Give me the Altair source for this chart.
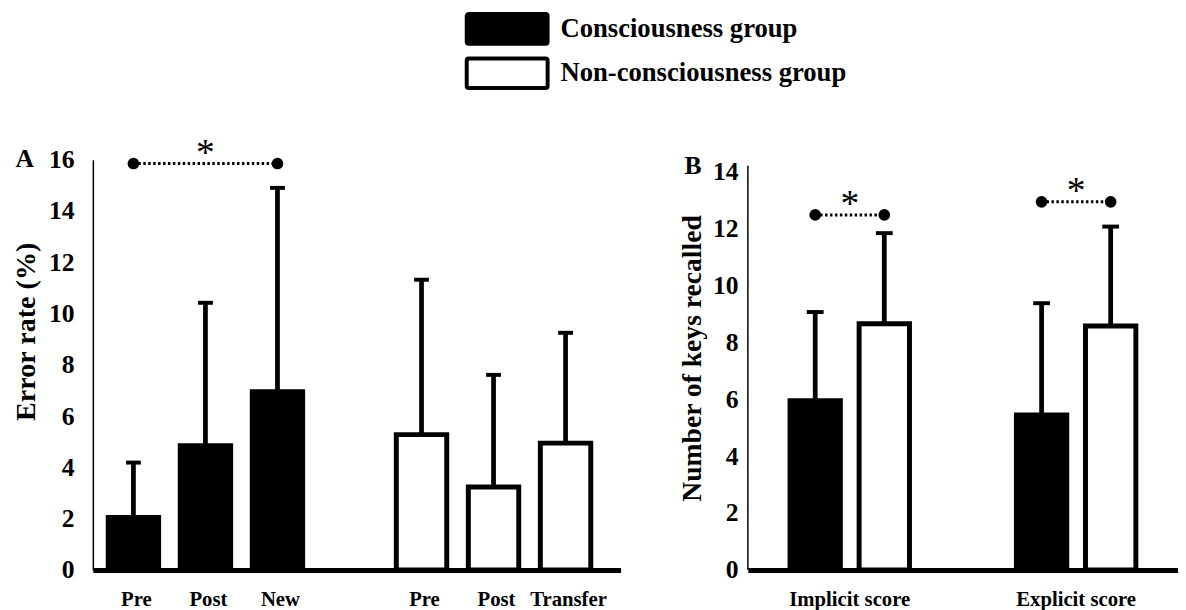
import altair as alt
import pandas as pd

FONT = "Liberation Serif"

# ---------------- data ----------------
legend_groups = ["Consciousness group", "Non-consciousness group"]

# Panel A: error rate (%)
a_groups = ["Consciousness group"] * 3 + ["Non-consciousness group"] * 3
a_labels = ["Pre", "Post", "New", "Pre", "Post", "Transfer"]
a_means = [2.05, 4.85, 6.95, 5.28, 3.24, 4.95]
a_sds = [2.14, 5.57, 7.95, 6.04, 4.37, 4.30]
a_sig_labels = ["Pre", "New"]          # compared bars (consciousness group)
a_sig_star_label = "Post"
a_sig_level = 15.85
a_ticks = [0, 2, 4, 6, 8, 10, 12, 14, 16]

# Panel B: number of keys recalled
b_categories = ["Implicit score", "Explicit score"]
b_means_c = [5.95, 5.45]
b_sds_c = [3.11, 3.92]
b_means_n = [8.65, 8.57]
b_sds_n = [3.18, 3.49]
b_sig_levels = [12.47, 12.93]
b_ticks = [0, 2, 4, 6, 8, 10, 12, 14]
b_axis_top = 14.2

# ---------------- tables ----------------
a_df = pd.DataFrame({"group": a_groups, "label": a_labels, "mean": a_means, "sd": a_sds})
a_df["key"] = a_df["group"] + "|" + a_df["label"]
a_df["upper"] = a_df["mean"] + a_df["sd"]
a_domain = list(a_df["key"][:3]) + ["|"] + list(a_df["key"][3:])
a_sig_df = pd.DataFrame({"key": [legend_groups[0] + "|" + l for l in a_sig_labels],
                         "level": [a_sig_level] * len(a_sig_labels)})
a_star_df = pd.DataFrame({"key": [legend_groups[0] + "|" + a_sig_star_label], "level": [a_sig_level]})

b_df = pd.DataFrame({
    "category": b_categories * 2,
    "group": [legend_groups[0]] * 2 + [legend_groups[1]] * 2,
    "mean": b_means_c + b_means_n,
    "sd": b_sds_c + b_sds_n,
})
b_df["upper"] = b_df["mean"] + b_df["sd"]
b_sig_df = pd.DataFrame({
    "category": b_categories * 2,
    "group": [legend_groups[0]] * 2 + [legend_groups[1]] * 2,
    "level": b_sig_levels * 2,
})
b_star_df = pd.DataFrame({"category": b_categories, "level": b_sig_levels})

color_scale = alt.Scale(domain=legend_groups, range=["black", "white"])

# ---------------- panel A ----------------
A_W, A_H = 535, 416

def xa():
    return alt.X("key:N",
                 scale=alt.Scale(domain=a_domain, paddingInner=0.30, paddingOuter=0.314, align=0.34),
                 axis=alt.Axis(title=None, labelExpr="split(datum.value, '|')[1]", labelAngle=0,
                               labelFont=FONT, labelFontWeight="bold", labelFontSize=21,
                               labelColor="black", labelPadding=19, ticks=False, labelOffset=3,
                               domainColor="black", domainWidth=5, labelBaseline="top"))

def ya(field):
    return alt.Y(field, scale=alt.Scale(domain=[0, 16]), title="Error rate (%)",
                 axis=alt.Axis(values=a_ticks, grid=False, ticks=False, labelFont=FONT,
                               labelFontWeight="bold", labelFontSize=26, labelColor="black",
                               labelPadding=19, domainColor="black", domainWidth=1.5,
                               titleFont=FONT, titleFontWeight="bold", titleFontSize=28.5,
                               titleColor="black", titlePadding=8, titleY=174))

a_bars = alt.Chart(a_df).mark_bar(stroke="black", strokeWidth=5).encode(
    x=xa(), y=ya("mean:Q"),
    fill=alt.Color("group:N", scale=color_scale, legend=None))
a_stem = alt.Chart(a_df).mark_rule(strokeWidth=4.8, color="black").encode(
    x=xa(), y=ya("mean:Q"), y2="upper:Q")
a_cap = alt.Chart(a_df).mark_tick(size=15, thickness=4, color="black", opacity=1).encode(
    x=xa(), y=ya("upper:Q"))
a_sig_line = alt.Chart(a_sig_df).mark_line(strokeDash=[2.5, 2.5], strokeWidth=3, color="black").encode(
    x=xa(), y=ya("level:Q"))
a_sig_dot = alt.Chart(a_sig_df).mark_circle(size=140, color="black", opacity=1).encode(
    x=xa(), y=ya("level:Q"))
a_star = alt.Chart(a_star_df).mark_text(text="*", font=FONT, fontSize=38, baseline="alphabetic",
                                        color="black", dy=2).encode(x=xa(), y=ya("level:Q"))
a_letter = alt.Chart(pd.DataFrame({"t": ["A"]})).mark_text(
    font=FONT, fontSize=26, fontWeight="bold", color="black", baseline="middle", align="center").encode(
    text="t:N", x=alt.value(-69), y=alt.value(-1))
a_anchor = alt.Chart(pd.DataFrame({"t": ["A"]})).mark_point(size=1, opacity=0).encode(
    x=alt.value(0), y=alt.value(-40))

panel_a = alt.layer(a_bars, a_stem, a_cap, a_sig_line, a_sig_dot, a_star, a_letter, a_anchor).properties(
    width=A_W, height=A_H)

# ---------------- panel B ----------------
B_W, B_H = 436, 416

def xb():
    return alt.X("category:N",
                 scale=alt.Scale(domain=b_categories, paddingInner=0.1, paddingOuter=0),
                 axis=alt.Axis(title=None, labelAngle=0, labelFont=FONT, labelFontWeight="bold",
                               labelFontSize=21, labelColor="black", labelPadding=19, ticks=False,
                               domainColor="black", domainWidth=5, labelBaseline="top"))

def xob():
    return alt.XOffset("group:N", scale=alt.Scale(domain=legend_groups, paddingInner=0.271,
                                                  paddingOuter=0.61))

def yb(field):
    return alt.Y(field, scale=alt.Scale(domain=[0, 14.41]), title="Number of keys recalled",
                 axis=alt.Axis(values=b_ticks, grid=False, ticks=False, labelFont=FONT,
                               labelFontWeight="bold", labelFontSize=26, labelColor="black",
                               labelPadding=10, domain=False,
                               titleFont=FONT, titleFontWeight="bold", titleFontSize=28,
                               titleColor="black", titlePadding=6, titleY=201))

b_axisline = alt.Chart(pd.DataFrame({"lo": [0.0], "hi": [b_axis_top]})).mark_rule(
    strokeWidth=1.5, color="black").encode(x=alt.value(0), y=yb("lo:Q"), y2="hi:Q")
b_bars = alt.Chart(b_df).mark_bar(stroke="black", strokeWidth=5).encode(
    x=xb(), xOffset=xob(), y=yb("mean:Q"),
    fill=alt.Color("group:N", scale=color_scale, legend=None))
b_stem = alt.Chart(b_df).mark_rule(strokeWidth=4.8, color="black").encode(
    x=xb(), xOffset=xob(), y=yb("mean:Q"), y2="upper:Q")
b_cap = alt.Chart(b_df).mark_tick(size=17, thickness=4, color="black", opacity=1).encode(
    x=xb(), xOffset=xob(), y=yb("upper:Q"))
b_sig_line = alt.Chart(b_sig_df).mark_line(strokeDash=[2.5, 2.5], strokeWidth=3, color="black").encode(
    x=xb(), xOffset=xob(), y=yb("level:Q"), detail="category:N")
b_sig_dot = alt.Chart(b_sig_df).mark_circle(size=140, color="black", opacity=1).encode(
    x=xb(), xOffset=xob(), y=yb("level:Q"))
b_star = alt.Chart(b_star_df).mark_text(text="*", font=FONT, fontSize=38, baseline="alphabetic",
                                        color="black", dy=1).encode(x=xb(), y=yb("level:Q"))
b_letter = alt.Chart(pd.DataFrame({"t": ["B"]})).mark_text(
    font=FONT, fontSize=26, fontWeight="bold", color="black", baseline="middle", align="center").encode(
    text="t:N", x=alt.value(-55.5), y=alt.value(7))
b_anchor = alt.Chart(pd.DataFrame({"t": ["B"]})).mark_point(size=1, opacity=0).encode(
    x=alt.value(0), y=alt.value(-40))

panel_b = alt.layer(b_axisline, b_bars, b_stem, b_cap, b_sig_line, b_sig_dot, b_star, b_letter,
                    b_anchor).properties(width=B_W, height=B_H)

# ---------------- legend ----------------
legend_df = pd.DataFrame({"group": legend_groups})
ly = alt.Y("group:N", scale=alt.Scale(domain=legend_groups, paddingInner=0, paddingOuter=0), axis=None)
leg_rect = alt.Chart(legend_df).mark_bar(orient="horizontal", size=30, stroke="black", strokeWidth=4,
                                         cornerRadius=2, yOffset=-5.5).encode(
    y=ly, x=alt.value(379), x2=alt.value(461),
    fill=alt.Color("group:N", scale=color_scale, legend=None))
leg_text = alt.Chart(legend_df).mark_text(align="left", baseline="middle", font=FONT, fontSize=27,
                                          fontWeight="bold", color="black", yOffset=-5.5).encode(
    y=ly, x=alt.value(474), text="group:N")
legend_chart = alt.layer(leg_rect, leg_text).properties(width=900, height=90)

chart = alt.vconcat(
    legend_chart,
    alt.hconcat(panel_a, panel_b, spacing=59),
    spacing=18.6,
).properties(
    padding={"left": 4, "top": 0, "right": 0, "bottom": 0},
    background="white",
).configure_view(stroke=None)

chart.save("out.html", embed_options={"renderer": "svg", "actions": False})
